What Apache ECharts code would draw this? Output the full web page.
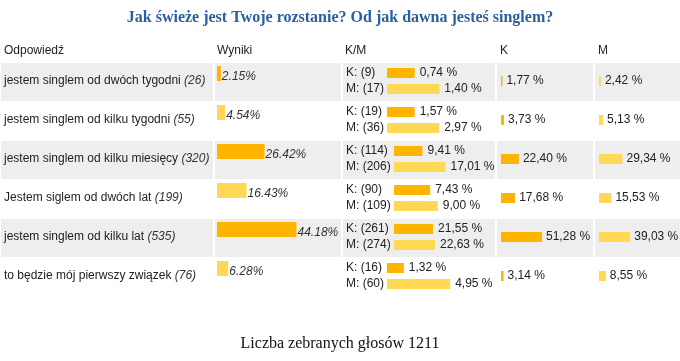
<!DOCTYPE html>
<html><head><meta charset="utf-8">
<script src="https://cdn.jsdelivr.net/npm/echarts@6/dist/echarts.min.js"></script>
<style>html,body{margin:0;padding:0;background:#fff}#c{width:680px;height:361px}</style>
</head><body><div id="c"></div>
<script>
// ---- data ----
const titleText = 'Jak świeże jest Twoje rozstanie? Od jak dawna jesteś singlem?';
const footerText = 'Liczba zebranych głosów 1211';
const headers = ['Odpowiedź', 'Wyniki', 'K/M', 'K', 'M'];
const answers = [
  'jestem singlem od dwóch tygodni',
  'jestem singlem od kilku tygodni',
  'jestem singlem od kilku miesięcy',
  'Jestem siglem od dwóch lat',
  'jestem singlem od kilku lat',
  'to będzie mój pierwszy związek'
];
const counts = [26, 55, 320, 199, 535, 76];
const resultPct = [2.15, 4.54, 26.42, 16.43, 44.18, 6.28];
const kCounts = [9, 19, 114, 90, 261, 16];
const mCounts = [17, 36, 206, 109, 274, 60];
const kOfTotalPct = [0.74, 1.57, 9.41, 7.43, 21.55, 1.32];
const mOfTotalPct = [1.40, 2.97, 17.01, 9.00, 22.63, 4.95];
const kPct = [1.77, 3.73, 22.40, 17.68, 51.28, 3.14];
const mPct = [2.42, 5.13, 29.34, 15.53, 39.03, 8.55];

// ---- style ----
const ORANGE = '#FFB400', YELLOW = '#FFD955', GREY = '#EEEEEE', TXT = '#222';
const SANS = '"Liberation Sans", Arial, sans-serif';
const SERIF = '"Liberation Serif", "Times New Roman", serif';
const ROW0 = 63, ROWH = 39, N = answers.length;
const cells = [[1, 213], [215, 341], [343, 495], [497, 593], [595, 680]];
const headerX = [4, 217, 345, 500, 598];

const ctx = document.createElement('canvas').getContext('2d');
ctx.font = '12px ' + SANS;
const tw = s => ctx.measureText(s).width;
const comma = v => v.toFixed(2).replace('.', ',') + ' %';

const chart = echarts.init(document.getElementById('c'));

const grids = [], xAxes = [], yAxes = [], series = [];
function addGrid(g, xmax, cats, yLabel) {
  const i = grids.length;
  grids.push(Object.assign({containLabel: false}, g));
  xAxes.push({gridIndex: i, type: 'value', min: 0, max: xmax, show: false});
  yAxes.push(Object.assign({gridIndex: i, type: 'category', data: cats, inverse: true,
    axisLine: {show: false}, axisTick: {show: false}, splitLine: {show: false}}, yLabel || {axisLabel: {show: false}}));
  return i;
}

// Wyniki column
const gW = addGrid({left: 217, top: ROW0 - 9, height: N * ROWH, width: 180}, 100, answers);
series.push({type: 'bar', xAxisIndex: gW, yAxisIndex: gW, barWidth: 15,
  data: resultPct.map((v, i) => ({value: v, itemStyle: {color: i % 2 ? YELLOW : ORANGE}})),
  label: {show: true, position: 'right', distance: 1, offset: [0, 3], fontFamily: SANS, fontSize: 12,
    fontStyle: 'italic', color: '#333', formatter: p => p.value.toFixed(2) + '%'}});

// K column (also carries the answer labels)
const gK = addGrid({left: 501, top: ROW0 - 1.5, height: N * ROWH, width: 80}, 100, answers, {
  axisLabel: {show: true, align: 'left', margin: 497, fontFamily: SANS, fontSize: 12, color: TXT,
    formatter: (v, i) => '{n|' + v + '} {c|(' + counts[i] + ')}',
    rich: {n: {fontFamily: SANS, fontSize: 12, color: TXT},
           c: {fontFamily: SANS, fontSize: 12, color: '#333', fontStyle: 'italic'}}}});
series.push({type: 'bar', xAxisIndex: gK, yAxisIndex: gK, barWidth: 10, itemStyle: {color: ORANGE},
  data: kPct, label: {show: true, position: 'right', distance: 4, fontFamily: SANS, fontSize: 12,
    color: TXT, formatter: p => comma(p.value)}});

// M column
const gM = addGrid({left: 599, top: ROW0 - 1.5, height: N * ROWH, width: 80}, 100, answers);
series.push({type: 'bar', xAxisIndex: gM, yAxisIndex: gM, barWidth: 10, itemStyle: {color: YELLOW},
  data: mPct, label: {show: true, position: 'right', distance: 4, fontFamily: SANS, fontSize: 12,
    color: TXT, formatter: p => comma(p.value)}});

// K/M column: one small grid per row
for (let r = 0; r < N; r++) {
  const kl = 'K: (' + kCounts[r] + ')', ml = 'M: (' + mCounts[r] + ')';
  const left = Math.round(346 + Math.max(tw(kl), tw(ml)) + 3);
  const g = addGrid({left: left, top: ROW0 + ROWH * r + 2, height: 32, width: 80}, 100, [kl, ml], {
    axisLabel: {show: true, align: 'left', margin: left - 346, fontFamily: SANS, fontSize: 12, color: TXT}});
  const tot = kCounts[r] + mCounts[r];
  const pcts = [kOfTotalPct[r], mOfTotalPct[r]];
  series.push({type: 'bar', xAxisIndex: g, yAxisIndex: g, barWidth: 10,
    data: [
      {value: kCounts[r] / tot * 100, itemStyle: {color: ORANGE}},
      {value: mCounts[r] / tot * 100, itemStyle: {color: YELLOW}}
    ],
    label: {show: true, position: 'right', distance: 5, fontFamily: SANS, fontSize: 12, color: TXT,
      formatter: p => comma(pcts[p.dataIndex])}});
}

// table background + headers
const graphic = [];
for (let r = 0; r < N; r += 2) {
  cells.forEach(c => graphic.push({type: 'rect', z: -10, silent: true,
    shape: {x: c[0], y: ROW0 + r * ROWH, width: c[1] - c[0], height: ROWH - 1},
    style: {fill: GREY}}));
}
headers.forEach((h, i) => graphic.push({type: 'text', left: headerX[i], top: 45,
  style: {text: h, font: '12px ' + SANS, fill: TXT}}));

chart.setOption({
  animation: false,
  title: [
    {text: titleText, left: 'center', top: 5,
      textStyle: {fontFamily: SERIF, fontSize: 16, fontWeight: 'bold', color: '#2b5f9e'}},
    {text: footerText, left: 'center', top: 331,
      textStyle: {fontFamily: SERIF, fontSize: 16, fontWeight: 'normal', color: '#111'}}
  ],
  grid: grids, xAxis: xAxes, yAxis: yAxes, series: series, graphic: graphic
});
</script></body></html>
